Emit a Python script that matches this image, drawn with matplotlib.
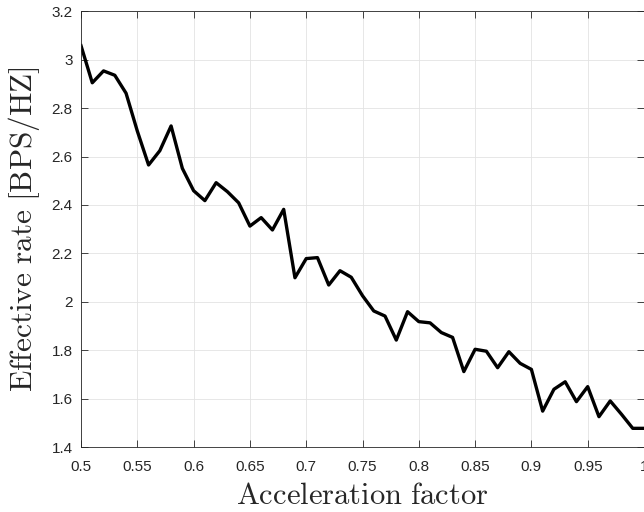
import matplotlib.pyplot as plt
import numpy as np

# acceleration factor (x) and effective rate (y)
accel = np.round(np.arange(0.50, 1.0001, 0.01), 2)
rate = [3.057, 2.904, 2.953, 2.935, 2.861, 2.705, 2.565, 2.624, 2.726, 2.551,
        2.459, 2.418, 2.492, 2.455, 2.409, 2.313, 2.348, 2.297, 2.382, 2.100,
        2.179, 2.183, 2.070, 2.129, 2.102, 2.026, 1.963, 1.942, 1.843, 1.960,
        1.919, 1.914, 1.874, 1.854, 1.713, 1.805, 1.797, 1.729, 1.795, 1.747,
        1.722, 1.550, 1.640, 1.671, 1.589, 1.651, 1.527, 1.592, 1.537, 1.479,
        1.479]
xticks = [0.5, 0.55, 0.6, 0.65, 0.7, 0.75, 0.8, 0.85, 0.9, 0.95, 1]
xticklabels = ['0.5', '0.55', '0.6', '0.65', '0.7', '0.75', '0.8', '0.85', '0.9', '0.95', '1']
yticks = [1.4, 1.6, 1.8, 2, 2.2, 2.4, 2.6, 2.8, 3, 3.2]
yticklabels = ['1.4', '1.6', '1.8', '2', '2.2', '2.4', '2.6', '2.8', '3', '3.2']

if __name__ == '__main__':
    plt.rcParams['mathtext.fontset'] = 'cm'
    fig = plt.figure(figsize=(6.44, 5.12), dpi=100)
    ax = fig.add_axes([0.1258, 0.126, 0.8742, 0.8525])
    # plot
    ax.plot(accel, rate, color='k', linewidth=2.4)
    ax.set_xlim(0.5, 1)
    ax.set_ylim(1.4, 3.2)
    # ticks
    ax.set_xticks(xticks)
    ax.set_xticklabels(xticklabels, fontfamily='Liberation Sans', fontsize=11, color='#262626')
    ax.set_yticks(yticks)
    ax.set_yticklabels(yticklabels, fontfamily='Liberation Sans', fontsize=11, color='#262626')
    ax.tick_params(direction='in', top=True, right=True, length=5, width=0.6, color='#262626')
    ax.tick_params(axis='x', pad=9)
    ax.tick_params(axis='y', pad=6)
    for s in ax.spines.values():
        s.set_color('#262626')
        s.set_linewidth(0.6)
    # grid
    ax.grid(color='#e3e3e3', linewidth=0.6)
    ax.set_axisbelow(True)
    # label
    ax.set_xlabel(r'$\mathrm{Acceleration\ factor}$', fontsize=22, color='#262626', labelpad=5)
    ax.set_ylabel(r'$\mathrm{Effective\ rate\ [BPS/HZ]}$', fontsize=22.5, color='#262626', labelpad=7)
    plt.savefig('out.png', dpi=100)
